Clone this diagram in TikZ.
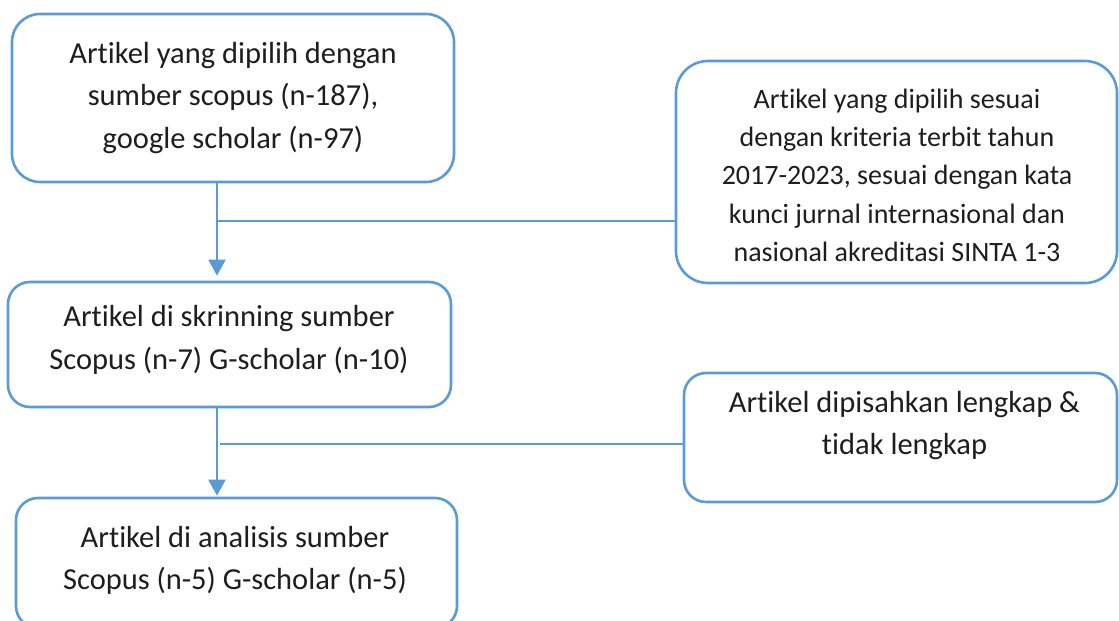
\documentclass[tikz,border=0pt]{standalone}
\usepackage{fontspec}
\setmainfont{Carlito}[Ligatures={NoCommon,NoContextual}]
\usetikzlibrary{arrows.meta}
\definecolor{obl}{RGB}{91,155,213}
\definecolor{txt}{RGB}{30,30,30}
\begin{document}
\begin{tikzpicture}[x=1pt,y=-1pt,
  box/.style={draw=obl,line width=2.6pt,rectangle,inner sep=0pt,fill=white},
  label30/.style={anchor=north,inner sep=0pt,align=center,text=txt,font=\fontsize{30.5}{42.5}\selectfont},
  label28/.style={anchor=north,inner sep=0pt,align=center,text=txt,font=\fontsize{28}{38.3}\selectfont},
  conn/.style={draw=obl,line width=2pt},
  arr/.style={conn,-{Triangle[width=17pt,length=16pt]}}]
\useasboundingbox (0,0) rectangle (1119,621);
\fill[white] (0,0) rectangle (1119,621);
% boxes
\node[box,rounded corners=28pt,minimum width=442pt,minimum height=168pt] (b1) at (233,98) {};
\node[box,rounded corners=32pt,minimum width=441pt,minimum height=222pt] (b2) at (896.5,172) {};
\node[box,rounded corners=22pt,minimum width=443pt,minimum height=125pt] (b3) at (229.5,344.5) {};
\node[box,rounded corners=22pt,minimum width=433pt,minimum height=129pt] (b4) at (900.5,437.5) {};
\node[box,rounded corners=22pt,minimum width=441pt,minimum height=130pt] (b5) at (236.5,563) {};
% texts (north = top of strut of first line)
\node[label30] (t1) at (233,33.5) {\strut Artikel yang dipilih dengan\\ sumber scopus (n-187),\\ google scholar (n-97)\strut};
\node[label28] (t2) at (897,81.2) {\strut Artikel yang dipilih sesuai\\ dengan kriteria terbit tahun\\ 2017-2023, sesuai dengan kata\\ kunci jurnal internasional dan\\ nasional akreditasi SINTA 1-3\strut};
\node[label30] (t3) at (229,297) {\strut Artikel di skrinning sumber\\ Scopus (n-7) G-scholar (n-10)\strut};
\node[label30] (t4) at (904.5,382.5) {\strut Artikel dipisahkan lengkap \&\\ tidak lengkap\strut};
\node[label30] (t5) at (235,517.5) {\strut Artikel di analisis sumber\\ Scopus (n-5) G-scholar (n-5)\strut};
% junctions
\coordinate (j1) at (217,221);
\coordinate (j2) at (217,444);
\coordinate (j2s) at (220,444);
% connectors
\draw[arr,shorten >=5pt] (j1 |- b1.south) -- (j1 |- b3.north);
\draw[conn] (j1) -- (j1 -| b2.west);
\draw[arr,shorten >=1pt] (j2 |- b3.south) -- (j2 |- b5.north);
\draw[conn] (j2s) -- (j2s -| b4.west);
\end{tikzpicture}
\end{document}
